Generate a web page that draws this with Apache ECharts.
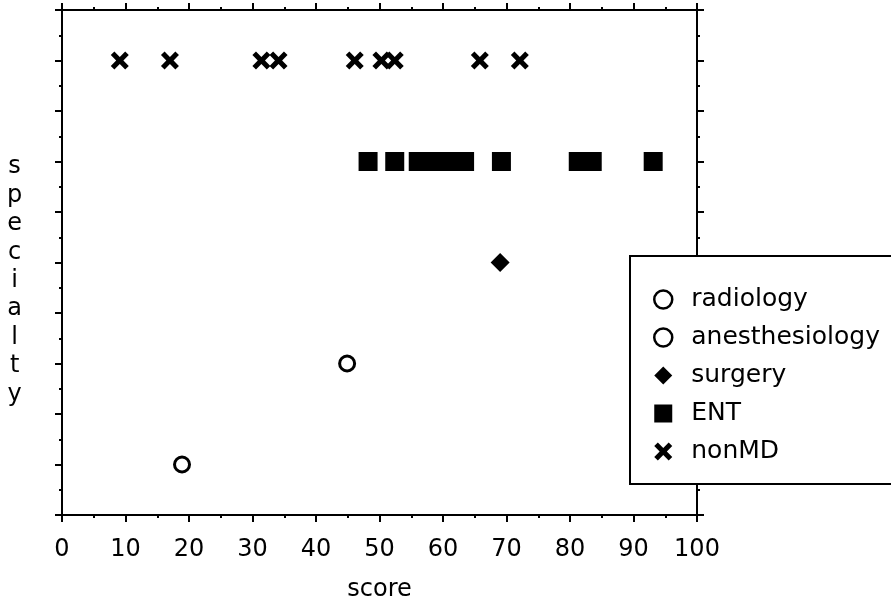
<!DOCTYPE html>
<html>
<head>
<meta charset="utf-8">
<script src="https://cdn.jsdelivr.net/npm/echarts@6/dist/echarts.min.js"></script>
<style>
  html, body { margin: 0; padding: 0; background: #fff; }
  #chart { width: 891px; height: 601px; }
</style>
</head>
<body>
<div id="chart"></div>
<script>
// ---- data ----
const specialties = ['radiology', 'anesthesiology', 'surgery', 'ENT', 'nonMD'];
const specialtyLevel = [1, 2, 3, 4, 5];
const radiologyScores = [18.9];
const anesthesiologyScores = [44.9];
const surgeryScores = [69.0];
const entScores = [48.2, 52.4, 56.1, 58.5, 61.0, 63.4, 69.2, 81.3, 83.5, 93.1];
const nonMDScores = [9.1, 17.0, 31.4, 34.1, 46.1, 50.3, 52.4, 65.8, 72.1];
const xTicks = [0, 10, 20, 30, 40, 50, 60, 70, 80, 90, 100];
const yAxisTitle = 'specialty';
const xAxisTitle = 'score';

const FONT = 'DejaVu Sans';
const scoresBySpecialty = [radiologyScores, anesthesiologyScores, surgeryScores, entScores, nonMDScores];

const crossPath = 'path://M20 0 L50 30 L80 0 L100 20 L70 50 L100 80 L80 100 L50 70 L20 100 L0 80 L30 50 L0 20 Z';
const styles = [
  { symbol: 'circle', symbolSize: 15, itemStyle: { color: '#fff', borderColor: '#000', borderWidth: 3, opacity: 1 } },
  { symbol: 'circle', symbolSize: 15, itemStyle: { color: '#fff', borderColor: '#000', borderWidth: 3, opacity: 1 } },
  { symbol: 'diamond', symbolSize: 19, itemStyle: { color: '#000', opacity: 1 } },
  { symbol: 'rect', symbolSize: 19, itemStyle: { color: '#000', opacity: 1 } },
  { symbol: crossPath, symbolSize: 18, itemStyle: { color: '#000', opacity: 1 } }
];

const series = specialties.map((name, i) => Object.assign({
  name: name,
  type: 'scatter',
  xAxisIndex: 0,
  yAxisIndex: 0,
  data: scoresBySpecialty[i].map(v => [v, specialtyLevel[i]]),
  emphasis: { disabled: true },
  z: 3
}, styles[i]));

const axisLineStyle = { color: '#000', width: 2 };
function xAx(pos, showLabel) {
  return {
    type: 'value', position: pos, min: 0, max: 100, interval: 10,
    axisLine: { show: true, onZero: false, lineStyle: axisLineStyle },
    axisTick: { show: true, inside: false, length: 7, lineStyle: axisLineStyle },
    minorTick: { show: true, splitNumber: 2, length: 3, lineStyle: { color: '#000', width: 2 } },
    splitLine: { show: false },
    axisLabel: {
      show: showLabel, margin: 23, color: '#000', fontFamily: FONT, fontSize: 24,
      formatter: v => String(xTicks[Math.round(v / 10)])
    },
    name: showLabel ? xAxisTitle : '',
    nameLocation: 'middle', nameGap: 63,
    nameTextStyle: { color: '#000', fontFamily: FONT, fontSize: 24 }
  };
}
function yAx(pos) {
  return {
    type: 'value', position: pos, min: 0.5, max: 5.5, interval: 0.5,
    axisLine: { show: true, onZero: false, lineStyle: axisLineStyle },
    axisTick: { show: true, inside: false, length: 7, lineStyle: axisLineStyle },
    minorTick: { show: true, splitNumber: 2, length: 3, lineStyle: { color: '#000', width: 2 } },
    splitLine: { show: false },
    axisLabel: { show: false }
  };
}

const legendData = specialties.map((name, i) =>
  i < 2 ? { name: name, itemStyle: { color: '#fff', borderColor: '#000', borderWidth: 2.5 } } : { name: name }
);

const chart = echarts.init(document.getElementById('chart'), null, { renderer: 'canvas' });
chart.setOption({
  animation: false,
  backgroundColor: '#fff',
  grid: { left: 62, right: 194, top: 10, bottom: 86, containLabel: false, outerBoundsMode: 'none' },
  xAxis: [xAx('bottom', true), xAx('top', false)],
  yAxis: [yAx('left'), yAx('right')],
  legend: {
    orient: 'vertical',
    left: 630, top: 256,
    padding: [31, 60, 20, 23],
    itemWidth: 18, itemHeight: 18, itemGap: 13,
    backgroundColor: '#fff',
    borderColor: '#000', borderWidth: 2,
    borderRadius: 0,
    selectedMode: false,
    z: 10,
    textStyle: { color: '#000', fontFamily: FONT, fontSize: 25, lineHeight: 22, padding: [0, 0, 0, 14] },
    data: legendData
  },
  graphic: [{
    type: 'text',
    left: 7, top: 153,
    style: {
      text: yAxisTitle.split('').join('\n'),
      fill: '#000', font: '24px "DejaVu Sans"',
      textAlign: 'center', lineHeight: 28.4
    }
  }],
  series: series
});
</script>
</body>
</html>
